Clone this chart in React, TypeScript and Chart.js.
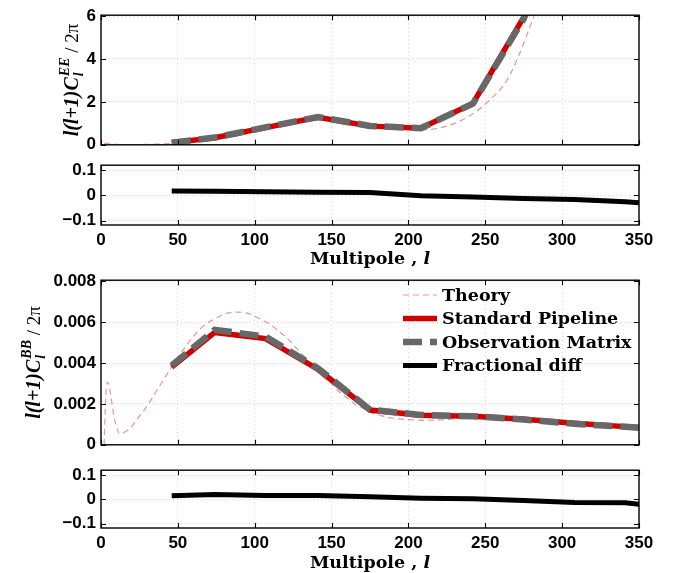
import React, { useEffect, useRef } from 'react';
import { Chart, registerables } from 'chart.js';
Chart.register(...registerables);

// ---------------- data ----------------
const binL = [46, 74, 107, 141, 175, 208, 242, 275, 308, 341, 374];

const eeStandard = [0.1, 0.33, 0.8, 1.28, 0.87, 0.77, 1.93, 5.95, 12.0, 18.0, 24.0];
const eeObservation = [0.102, 0.336, 0.812, 1.297, 0.88, 0.77, 1.92, 5.88, 11.8, 17.6, 23.0];
const eeFracDiff = [0.018, 0.017, 0.015, 0.013, 0.012, -0.001, -0.006, -0.012, -0.016, -0.025, -0.04];

const bbStandard = [0.0038, 0.0055, 0.0052, 0.0037, 0.0017, 0.00145, 0.0014, 0.00125, 0.00105, 0.00089, 0.00075];
const bbObservation = [0.00388, 0.00563, 0.0053, 0.00375, 0.00172, 0.00146, 0.0014, 0.00124, 0.00103, 0.00088, 0.00073];
const bbFracDiff = [0.015, 0.021, 0.016, 0.016, 0.011, 0.005, 0.003, -0.004, -0.013, -0.014, -0.035];

const theoryEEL = [2, 3, 5, 8, 15, 25, 35, 45, 55, 65, 75, 85, 95, 105, 115, 125, 135, 143, 150, 160, 170, 180, 190, 200, 210, 220, 230, 240, 250, 264, 272, 282, 290, 300];
const theoryEE = [0.05, 0.08, 0.06, 0.03, 0.01, 0.015, 0.03, 0.06, 0.11, 0.18, 0.27, 0.38, 0.52, 0.68, 0.85, 1.0, 1.12, 1.16, 1.12, 1.0, 0.88, 0.8, 0.75, 0.71, 0.7, 0.78, 1.0, 1.35, 1.9, 3.0, 4.2, 6.05, 7.5, 9.5];

const theoryBBL = [2, 3, 4, 5, 6, 7, 8, 9, 10, 12, 15, 20, 25, 30, 35, 40, 45, 50, 55, 60, 65, 70, 75, 80, 88, 95, 100, 105, 110, 115, 120, 125, 130, 135, 140, 145, 150, 155, 160, 165, 170, 175, 180, 190, 200, 210, 220, 230, 240, 250, 260, 270, 280, 290, 300, 310, 320, 330, 340, 350];
const theoryBB = [0.0, 0.0022, 0.00306, 0.003, 0.0026, 0.0021, 0.0016, 0.0012, 0.0009, 0.00055, 0.0006, 0.0009, 0.0014, 0.0019, 0.0025, 0.0031, 0.0037, 0.0043, 0.0048, 0.0053, 0.0057, 0.006, 0.0062, 0.0064, 0.0065, 0.00645, 0.0063, 0.0061, 0.0059, 0.0056, 0.0053, 0.0049, 0.0045, 0.0041, 0.0037, 0.0033, 0.003, 0.0026, 0.0023, 0.002, 0.0018, 0.0016, 0.00148, 0.0013, 0.00123, 0.0012, 0.00122, 0.00127, 0.0013, 0.0013, 0.00127, 0.0012, 0.00115, 0.0011, 0.00104, 0.00099, 0.00095, 0.0009, 0.00085, 0.0008];

const xTicks = [0, 50, 100, 150, 200, 250, 300, 350];
const eeTicks = [0, 2, 4, 6];
const bbTicks = [0, 0.002, 0.004, 0.006, 0.008];
const diffTicks = [-0.1, 0, 0.1];

const legendLabels = ['Theory', 'Standard Pipeline', 'Observation Matrix', 'Fractional diff'];

// ---------------- styles ----------------
const S_THEORY = { color: '#ea9696', width: 1.2, dash: [6, 4] };
const S_STD = { color: '#d10000', width: 5.5, dash: [] as number[] };
const S_OBS = { color: '#686868', width: 6.5, dash: [19, 8] };
const S_DIFF = { color: '#000000', width: 5, dash: [] as number[] };

const TICK_FONT = { family: '"Liberation Sans", Arial, sans-serif', size: 17, weight: 'bold' as const };
const W = 689;
const PLOT_LEFT = 101;
const PLOT_RIGHT = 639;

const pts = (xs: number[], ys: number[]) => xs.map((x, i) => ({ x, y: ys[i] }));

function ds(label: string, data: any[], s: any, smooth = false) {
  return {
    label,
    data,
    borderColor: s.color,
    backgroundColor: s.color,
    borderWidth: s.width,
    borderDash: s.dash,
    pointRadius: 0,
    pointHoverRadius: 0,
    fill: false,
    tension: 0,
    cubicInterpolationMode: smooth ? 'monotone' : 'default',
    clip: 0,
    borderCapStyle: 'butt',
    borderJoinStyle: 'miter',
  };
}

function drawYTitle(ctx: CanvasRenderingContext2D, baseX: number, centerY: number, sup: string) {
  const fMain = 'italic bold 20px "Liberation Serif", "Times New Roman", serif';
  const fScript = 'italic bold 14px "Liberation Serif", "Times New Roman", serif';
  const fTail = '19px "Liberation Serif", "Times New Roman", serif';
  ctx.save();
  ctx.font = fMain;
  const w1 = ctx.measureText('l(l+1)C').width;
  ctx.font = fScript;
  const wScript = Math.max(ctx.measureText(sup).width, ctx.measureText('l').width);
  ctx.font = fTail;
  const w3 = ctx.measureText(' / 2π').width;
  const total = w1 + 1 + wScript + w3;
  ctx.translate(baseX, centerY);
  ctx.rotate(-Math.PI / 2);
  ctx.fillStyle = '#000';
  ctx.textAlign = 'left';
  ctx.textBaseline = 'alphabetic';
  let x = -total / 2;
  ctx.font = fMain;
  ctx.fillText('l(l+1)C', x, 0);
  x += w1 + 1;
  ctx.font = fScript;
  ctx.fillText(sup, x, -9);
  ctx.fillText('l', x, 5);
  x += wScript;
  ctx.font = fTail;
  ctx.fillText(' / 2π', x, 0);
  ctx.restore();
}

function drawXTitle(ctx: CanvasRenderingContext2D, cx: number, cy: number) {
  const f1 = 'bold 17.5px "DejaVu Serif", serif';
  const f2 = 'italic bold 17.5px "DejaVu Serif", serif';
  ctx.save();
  ctx.font = f1;
  const a = 'Multipole , ';
  const wa = ctx.measureText(a).width;
  ctx.font = f2;
  const wb = ctx.measureText('l').width;
  const x = cx - (wa + wb) / 2;
  ctx.fillStyle = '#000';
  ctx.textAlign = 'left';
  ctx.textBaseline = 'middle';
  ctx.font = f1;
  ctx.fillText(a, x, cy);
  ctx.font = f2;
  ctx.fillText('l', x + wa, cy);
  ctx.restore();
}

function drawLegend(ctx: CanvasRenderingContext2D, offsetY: number) {
  const styles = [S_THEORY, S_STD, S_OBS, S_DIFF];
  const rows = [295, 318.5, 342, 365.5];
  ctx.save();
  legendLabels.forEach((label, i) => {
    const s = styles[i];
    const y = rows[i] - offsetY;
    ctx.beginPath();
    ctx.setLineDash(s.dash);
    ctx.lineWidth = s.width;
    ctx.strokeStyle = s.color;
    ctx.lineCap = 'butt';
    ctx.moveTo(403, y);
    ctx.lineTo(437, y);
    ctx.stroke();
    ctx.setLineDash([]);
    ctx.font = 'bold 17.5px "DejaVu Serif", serif';
    ctx.fillStyle = '#000';
    ctx.textAlign = 'left';
    ctx.textBaseline = 'middle';
    ctx.fillText(label, 442, y + 1);
  });
  ctx.restore();
}

interface Spec {
  top: number;
  height: number;
  padTop: number;
  xAxisH: number;
  yMin: number;
  yMax: number;
  yTicks: number[];
  fmt: (v: number) => string;
  showX: boolean;
  datasets: any[];
  yTitle?: { sup: string; baseX: number };
  xTitleY?: number;
  legend?: boolean;
}

function makeConfig(spec: Spec): any {
  const deco = {
    id: 'deco',
    afterDraw(chart: any) {
      const { ctx, chartArea: a, scales } = chart;
      ctx.save();
      ctx.setLineDash([]);
      ctx.strokeStyle = '#000';
      ctx.lineWidth = 1.1;
      ctx.beginPath();
      for (const v of xTicks) {
        const px = Math.round(scales.x.getPixelForValue(v)) + 0.5;
        ctx.moveTo(px, a.bottom);
        ctx.lineTo(px, a.bottom - 5);
        ctx.moveTo(px, a.top);
        ctx.lineTo(px, a.top + 5);
      }
      for (const v of spec.yTicks) {
        const py = Math.round(scales.y.getPixelForValue(v)) + 0.5;
        ctx.moveTo(a.left, py);
        ctx.lineTo(a.left + 5, py);
        ctx.moveTo(a.right, py);
        ctx.lineTo(a.right - 5, py);
      }
      ctx.stroke();
      ctx.lineWidth = 1.4;
      ctx.strokeRect(a.left, a.top, a.right - a.left, a.bottom - a.top);
      ctx.restore();
      if (spec.yTitle) drawYTitle(ctx, spec.yTitle.baseX, (a.top + a.bottom) / 2, spec.yTitle.sup);
      if (spec.xTitleY !== undefined) drawXTitle(ctx, (a.left + a.right) / 2, spec.xTitleY - spec.top);
      if (spec.legend) drawLegend(ctx, spec.top);
    },
  };
  return {
    type: 'line',
    data: { datasets: spec.datasets },
    options: {
      animation: false,
      responsive: false,
      devicePixelRatio: 1,
      layout: { padding: { left: 0, right: W - PLOT_RIGHT, top: spec.padTop, bottom: 0 } },
      plugins: { legend: { display: false }, tooltip: { enabled: false } },
      events: [],
      scales: {
        x: {
          type: 'linear',
          min: 0,
          max: 350,
          afterBuildTicks: (s: any) => {
            s.ticks = xTicks.map((v) => ({ value: v }));
          },
          afterFit: (s: any) => {
            s.height = spec.xAxisH;
          },
          grid: { color: '#d2d2d2', lineWidth: 1, drawTicks: false },
          border: { display: false, dash: [1, 3] },
          ticks: {
            display: spec.showX,
            font: TICK_FONT,
            color: '#000',
            padding: 5,
            maxRotation: 0,
            autoSkip: false,
            callback: (v: number) => String(v),
          },
        },
        y: {
          type: 'linear',
          min: spec.yMin,
          max: spec.yMax,
          afterBuildTicks: (s: any) => {
            s.ticks = spec.yTicks.map((v) => ({ value: v }));
          },
          afterFit: (s: any) => {
            s.width = PLOT_LEFT;
          },
          grid: { color: '#d2d2d2', lineWidth: 1, drawTicks: false },
          border: { display: false, dash: [1, 3] },
          ticks: {
            font: TICK_FONT,
            color: '#000',
            padding: 5,
            autoSkip: false,
            callback: (v: number) => spec.fmt(v),
          },
        },
      },
    },
    plugins: [deco],
  };
}

const fmtEE = (v: number) => String(v);
const fmtBB = (v: number) => (v === 0 ? '0' : v.toFixed(3));
const fmtDiff = (v: number) => (Math.abs(v) < 1e-9 ? '0' : (v < 0 ? '\u2212' : '') + Math.abs(v).toFixed(1));

const specs: Spec[] = [
  {
    top: 0,
    height: 160,
    padTop: 10,
    xAxisH: 10,
    yMin: 0,
    yMax: 6.04,
    yTicks: eeTicks,
    fmt: fmtEE,
    showX: false,
    datasets: [
      ds('Observation Matrix', pts(binL, eeObservation), S_OBS),
      ds('Standard Pipeline', pts(binL, eeStandard), S_STD),
      ds('Theory', pts(theoryEEL, theoryEE), S_THEORY, true),
    ],
    yTitle: { sup: 'EE', baseX: 78 },
  },
  {
    top: 150,
    height: 120,
    padTop: 11,
    xAxisH: 45,
    yMin: -0.117,
    yMax: 0.12,
    yTicks: diffTicks,
    fmt: fmtDiff,
    showX: true,
    datasets: [ds('Fractional diff', pts(binL, eeFracDiff), S_DIFF)],
    xTitleY: 259,
  },
  {
    top: 265,
    height: 195,
    padTop: 9,
    xAxisH: 7,
    yMin: 0,
    yMax: 0.00806,
    yTicks: bbTicks,
    fmt: fmtBB,
    showX: false,
    datasets: [
      ds('Observation Matrix', pts(binL, bbObservation), S_OBS),
      ds('Standard Pipeline', pts(binL, bbStandard), S_STD),
      ds('Theory', pts(theoryBBL, theoryBB), S_THEORY, true),
    ],
    yTitle: { sup: 'BB', baseX: 40 },
    legend: true,
  },
  {
    top: 455,
    height: 118,
    padTop: 8,
    xAxisH: 45,
    yMin: -0.118,
    yMax: 0.121,
    yTicks: diffTicks,
    fmt: fmtDiff,
    showX: true,
    datasets: [ds('Fractional diff', pts(binL, bbFracDiff), S_DIFF)],
    xTitleY: 563,
  },
];

function Panel({ spec }: { spec: Spec }) {
  const ref = useRef<HTMLCanvasElement | null>(null);
  useEffect(() => {
    if (!ref.current) return;
    const chart = new Chart(ref.current, makeConfig(spec));
    return () => chart.destroy();
  }, [spec]);
  return (
    <canvas
      ref={ref}
      width={W}
      height={spec.height}
      style={{ position: 'absolute', left: 0, top: spec.top, width: W, height: spec.height }}
    />
  );
}

export default function App() {
  useEffect(() => {
    document.body.style.margin = '0';
    document.body.style.background = '#fff';
  }, []);
  return (
    <div style={{ position: 'relative', width: W, height: 573, background: '#fff', overflow: 'hidden' }}>
      {specs.map((s, i) => (
        <Panel key={i} spec={s} />
      ))}
    </div>
  );
}
